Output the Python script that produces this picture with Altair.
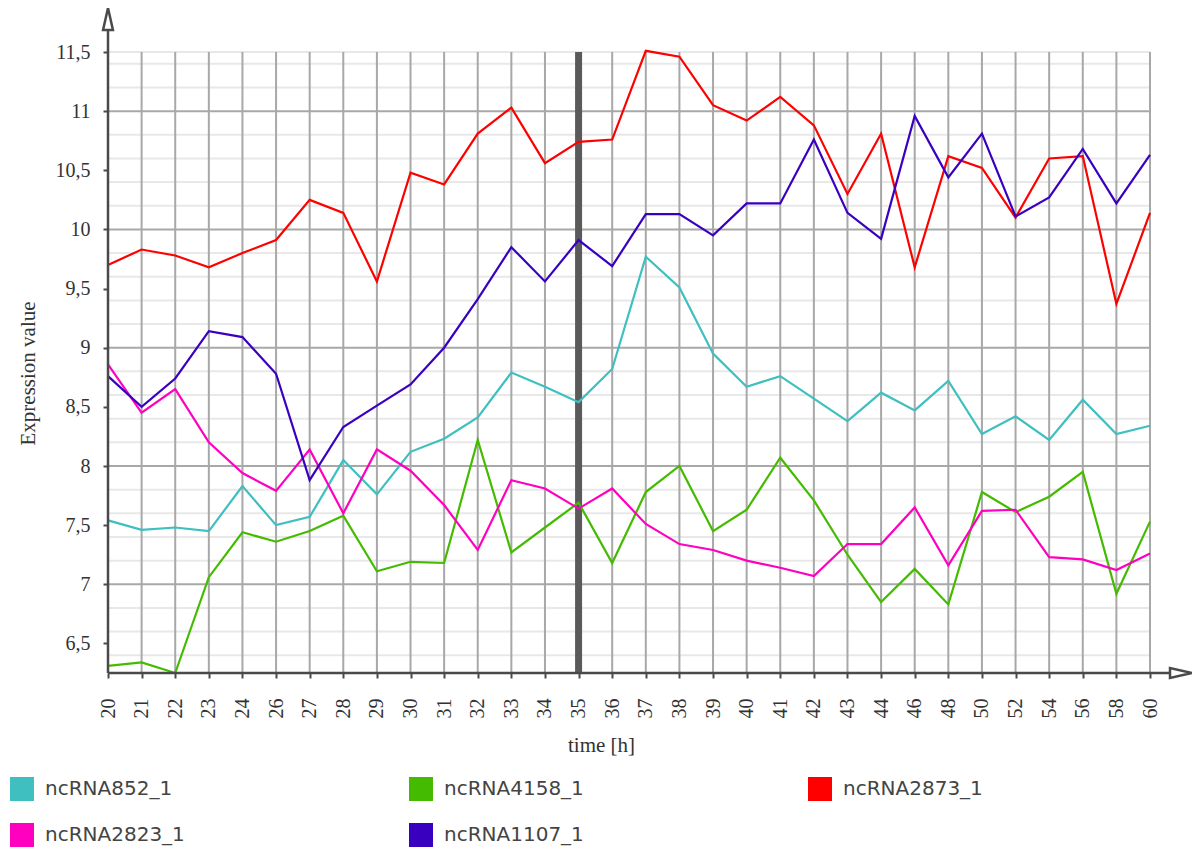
import altair as alt
import pandas as pd

# ---------------- data ----------------
times = ["20", "21", "22", "23", "24", "26", "27", "28", "29", "30", "31", "32",
         "33", "34", "35", "36", "37", "38", "39", "40", "41", "42", "43", "44",
         "46", "48", "50", "52", "54", "56", "58", "60"]

series_names = ["ncRNA852_1", "ncRNA4158_1", "ncRNA2873_1", "ncRNA2823_1", "ncRNA1107_1"]
series_colors = ["#3fbfbf", "#44bb00", "#ff0000", "#ff00c0", "#3a00c0"]

ncRNA852_1 = [7.54, 7.46, 7.48, 7.45, 7.83, 7.50, 7.57, 8.05, 7.76, 8.12, 8.23, 8.41,
              8.79, 8.67, 8.54, 8.82, 9.77, 9.51, 8.95, 8.67, 8.76, 8.57, 8.38, 8.62,
              8.47, 8.72, 8.27, 8.42, 8.22, 8.56, 8.27, 8.34]
ncRNA4158_1 = [6.31, 6.34, 6.25, 7.06, 7.44, 7.36, 7.45, 7.58, 7.11, 7.19, 7.18, 8.22,
               7.27, 7.48, 7.69, 7.18, 7.78, 8.00, 7.45, 7.63, 8.07, 7.71, 7.25, 6.85,
               7.13, 6.83, 7.78, 7.61, 7.74, 7.95, 6.92, 7.53]
ncRNA2873_1 = [9.70, 9.83, 9.78, 9.68, 9.80, 9.91, 10.25, 10.14, 9.56, 10.48, 10.38, 10.81,
               11.03, 10.56, 10.74, 10.76, 11.51, 11.46, 11.05, 10.92, 11.12, 10.88, 10.30, 10.81,
               9.68, 10.62, 10.52, 10.10, 10.60, 10.62, 9.37, 10.14]
ncRNA2823_1 = [8.86, 8.45, 8.65, 8.20, 7.94, 7.79, 8.14, 7.60, 8.14, 7.96, 7.67, 7.29,
               7.88, 7.81, 7.64, 7.81, 7.51, 7.34, 7.29, 7.20, 7.14, 7.07, 7.34, 7.34,
               7.65, 7.16, 7.62, 7.63, 7.23, 7.21, 7.12, 7.26]
ncRNA1107_1 = [8.76, 8.50, 8.74, 9.14, 9.09, 8.78, 7.88, 8.33, 8.51, 8.69, 9.00, 9.41,
               9.85, 9.56, 9.91, 9.69, 10.13, 10.13, 9.95, 10.22, 10.22, 10.76, 10.14, 9.92,
               10.96, 10.44, 10.81, 10.11, 10.27, 10.68, 10.22, 10.63]

y_ticks = [6.5, 7, 7.5, 8, 8.5, 9, 9.5, 10, 10.5, 11, 11.5]
major_grid = [7, 8, 9, 10, 11]
minor_grid = [6.4, 6.6, 6.8, 7.2, 7.4, 7.6, 7.8, 8.2, 8.4, 8.6, 8.8, 9.2, 9.4, 9.6, 9.8,
              10.2, 10.4, 10.6, 10.8, 11.2, 11.4, 11.5]
marker_time = ["35"]
y_domain = [6.25, 11.5]

# ---------------- tables ----------------
all_series = [ncRNA852_1, ncRNA4158_1, ncRNA2873_1, ncRNA2823_1, ncRNA1107_1]
rows = []
for name, vals in zip(series_names, all_series):
    for i, (t, v) in enumerate(zip(times, vals)):
        rows.append({"series": name, "time": t, "idx": i, "value": v})
df = pd.DataFrame(rows)

W, H = 1042, 621
SERIF = "Liberation Serif"
AX = "#4a4a4a"
GRID = "#a8a8a8"
MINOR = "#e8e8e8"

xscale = alt.Scale(type="point", domain=times, padding=0)
yscale = alt.Scale(domain=y_domain, nice=False, zero=False)

x_axis = alt.Axis(
    title="time [h]", labelAngle=270, labelAlign="right", labelBaseline="middle",
    labelFont=SERIF, labelFontSize=20, labelColor="#333", labelPadding=20,
    tickSize=5, tickWidth=2, tickColor=AX, domain=False, grid=False,
    titleFont=SERIF, titleFontSize=21, titleFontWeight="normal", titleColor="#333",
    titleX=493, titleY=78, titleAlign="center", titleBaseline="alphabetic",
)
y_axis = alt.Axis(
    title="Expression value", values=y_ticks,
    labelExpr="replace(toString(datum.value), '.', ',')",
    labelFont=SERIF, labelFontSize=20, labelColor="#333", labelPadding=13,
    labelBaseline="middle",
    tickSize=5, tickWidth=2, tickColor=AX, domain=False, grid=False,
    titleFont=SERIF, titleFontSize=21, titleFontWeight="normal", titleColor="#333",
    titleAngle=270, titleX=-80, titleY=321, titleAlign="center", titleBaseline="middle",
)

one = pd.DataFrame({"k": [0]})

minor = alt.Chart(pd.DataFrame({"value": minor_grid})).mark_rule(
    color=MINOR, strokeWidth=2).encode(
    y=alt.Y("value:Q", scale=yscale, axis=y_axis),
    x=alt.value(0), x2=alt.value(W))

major = alt.Chart(pd.DataFrame({"value": major_grid})).mark_rule(
    color=GRID, strokeWidth=2).encode(
    y=alt.Y("value:Q", scale=yscale, axis=y_axis),
    x=alt.value(0), x2=alt.value(W))

vgrid = alt.Chart(pd.DataFrame({"time": times})).mark_rule(
    color=GRID, strokeWidth=2).encode(
    x=alt.X("time:O", scale=xscale, axis=x_axis),
    y=alt.value(0), y2=alt.value(H))

marker = alt.Chart(pd.DataFrame({"time": marker_time})).mark_rule(
    color="#5a5a5a", strokeWidth=7).encode(
    x=alt.X("time:O", scale=xscale, axis=x_axis),
    y=alt.value(0), y2=alt.value(H))

color_scale = alt.Scale(domain=series_names, range=series_colors)

lines = alt.Chart(df).mark_line(strokeWidth=2.2, clip=False).encode(
    x=alt.X("time:O", scale=xscale, axis=x_axis),
    y=alt.Y("value:Q", scale=yscale, axis=y_axis),
    stroke=alt.Stroke("series:N", scale=color_scale, legend=None),
    detail="series:N",
    order="idx:Q",
)

legend_layer = alt.Chart(df).mark_square(opacity=0).encode(
    x=alt.X("time:O", scale=xscale, axis=x_axis),
    y=alt.Y("value:Q", scale=yscale, axis=y_axis),
    color=alt.Color("series:N", scale=color_scale, sort=series_names, legend=alt.Legend(
        title=None, orient="none", legendX=-98, legendY=725, columns=3,
        direction="horizontal",
        symbolType="square", symbolSize=576, symbolStrokeWidth=0, symbolOpacity=1,
        labelFont="DejaVu Sans", labelFontSize=20, labelColor="#444", labelOffset=11,
        columnPadding=224, rowPadding=22, gridAlign="all", padding=0,
    )),
)

y_line = alt.Chart(one).mark_rule(color=AX, strokeWidth=2.5).encode(
    x=alt.value(0), y=alt.value(-22), y2=alt.value(H))
x_line = alt.Chart(one).mark_rule(color=AX, strokeWidth=2.5).encode(
    x=alt.value(0), x2=alt.value(1062), y=alt.value(H))

up_arrow = alt.Chart(one).mark_point(
    shape="M0,-1L0.45,1L-0.45,1Z", size=484, filled=True, fill="white",
    stroke=AX, strokeWidth=2.5, opacity=1).encode(
    x=alt.value(0), y=alt.value(-33))
right_arrow = alt.Chart(one).mark_point(
    shape="M1,0L-1,-0.45L-1,0.45Z", size=484, filled=True, fill="white",
    stroke=AX, strokeWidth=2.5, opacity=1).encode(
    x=alt.value(1073), y=alt.value(H))

chart = alt.layer(
    minor, major, vgrid, marker, legend_layer, lines, y_line, x_line, up_arrow, right_arrow
).properties(
    width=W, height=H,
    autosize=alt.AutoSizeParams(type="none"),
    padding={"left": 100, "top": 44, "right": 42, "bottom": 180},
    background="white",
).configure_view(stroke=None)

chart.save("out.html", embed_options={"renderer": "svg", "actions": False})
